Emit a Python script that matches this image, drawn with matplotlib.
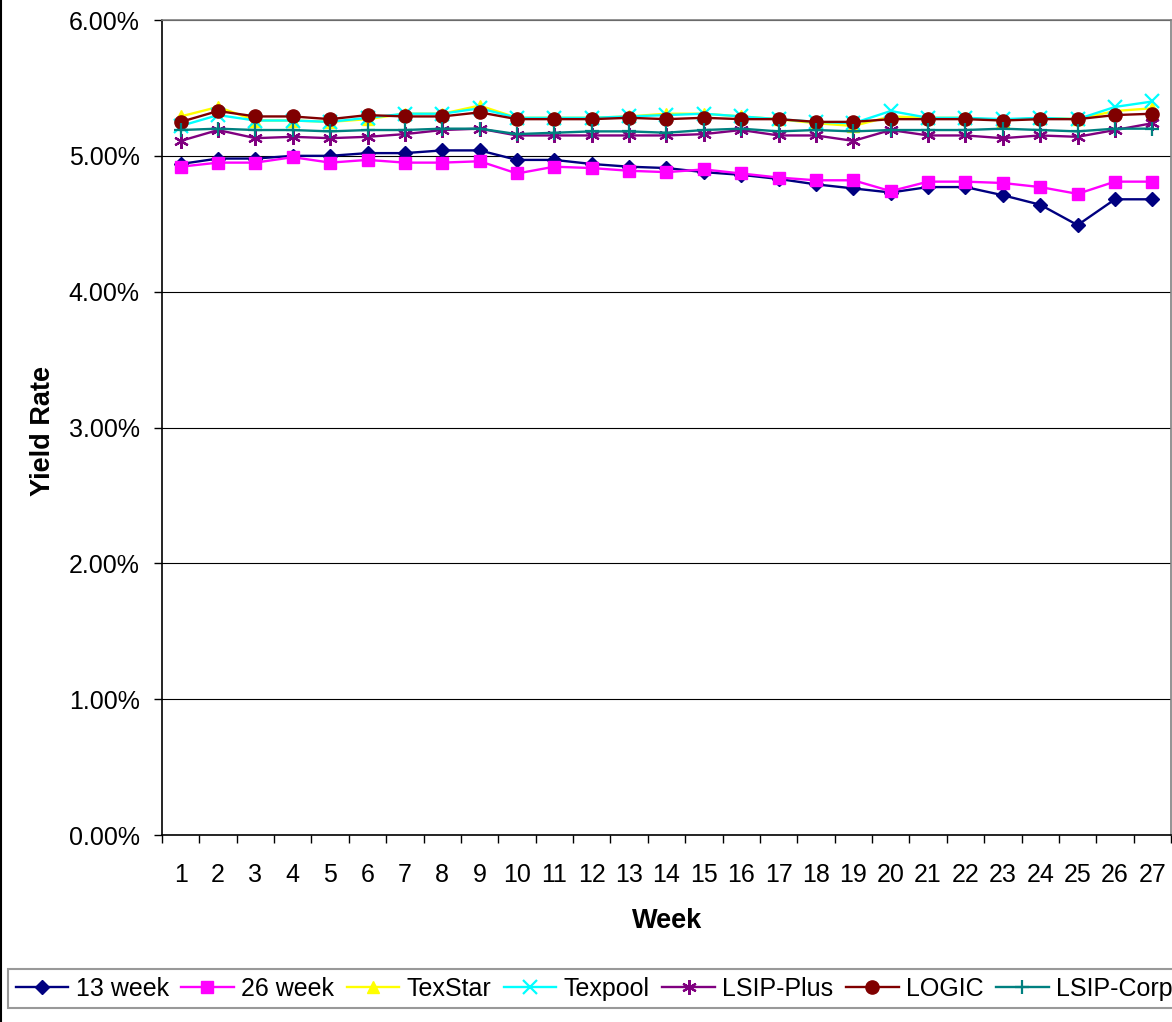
import matplotlib
matplotlib.use("Agg")
import matplotlib.pyplot as plt
from matplotlib.lines import Line2D
from matplotlib.ticker import FixedLocator, FuncFormatter

plt.rcParams['font.family'] = ['Liberation Sans', 'DejaVu Sans']

weeks = list(range(1, 28))

week13 = [4.94, 4.98, 4.98, 5.00, 5.00, 5.02, 5.02, 5.04, 5.04, 4.97, 4.97, 4.94, 4.92, 4.91,
          4.88, 4.86, 4.83, 4.79, 4.76, 4.73, 4.77, 4.77, 4.71, 4.64, 4.49, 4.68, 4.68]
week26 = [4.92, 4.95, 4.95, 4.99, 4.95, 4.97, 4.95, 4.95, 4.96, 4.87, 4.92, 4.91, 4.89, 4.88,
          4.90, 4.87, 4.84, 4.82, 4.82, 4.74, 4.81, 4.81, 4.80, 4.77, 4.72, 4.81, 4.81]
texstar = [5.29, 5.36, 5.26, 5.26, 5.25, 5.27, 5.31, 5.31, 5.37, 5.28, 5.28, 5.28, 5.29, 5.31,
           5.31, 5.29, 5.27, 5.24, 5.22, 5.29, 5.28, 5.28, 5.26, 5.28, 5.27, 5.33, 5.35]
texpool = [5.22, 5.30, 5.26, 5.26, 5.25, 5.28, 5.31, 5.31, 5.35, 5.28, 5.28, 5.28, 5.29, 5.30,
           5.31, 5.29, 5.27, 5.25, 5.24, 5.33, 5.28, 5.28, 5.27, 5.28, 5.27, 5.36, 5.40]
lsip_plus = [5.11, 5.19, 5.13, 5.14, 5.13, 5.14, 5.16, 5.19, 5.20, 5.15, 5.15, 5.15, 5.15, 5.15,
             5.16, 5.19, 5.15, 5.15, 5.11, 5.19, 5.15, 5.15, 5.13, 5.15, 5.14, 5.19, 5.24]
logic = [5.25, 5.33, 5.29, 5.29, 5.27, 5.30, 5.29, 5.29, 5.32, 5.27, 5.27, 5.27, 5.28, 5.27,
         5.28, 5.27, 5.27, 5.25, 5.25, 5.27, 5.27, 5.27, 5.26, 5.27, 5.27, 5.30, 5.31]
lsip_corp = [5.19, 5.20, 5.19, 5.19, 5.18, 5.19, 5.19, 5.20, 5.20, 5.16, 5.17, 5.18, 5.18, 5.17,
             5.19, 5.20, 5.18, 5.19, 5.18, 5.19, 5.19, 5.19, 5.20, 5.19, 5.18, 5.20, 5.20]

series_names = ["13 week", "26 week", "TexStar", "Texpool", "LSIP-Plus", "LOGIC", "LSIP-Corp"]
series_values = [week13, week26, texstar, texpool, lsip_plus, logic, lsip_corp]
colors = ["#000080", "#FF00FF", "#FFFF00", "#00FFFF", "#800080", "#800000", "#008080"]
markers = ["D", "s", "^", "x", (6, 2, 0), "o", "+"]
msizes = [7.5, 8, 8.5, 9.5, 10.5, 9.5, 10.5]

y_ticks = [0, 1, 2, 3, 4, 5, 6]

W, H = 1172, 1022
FS = 18
fig = plt.figure(figsize=(W / 100, H / 100), dpi=100)
ax = fig.add_axes([162 / W, 1 - 835 / H, (1171 - 162) / W, (835 - 20) / H])

for name, vals, c, m, ms in zip(series_names, series_values, colors, markers, msizes):
    mew = 1.6 if m in ("x", "+", (6, 2, 0)) else 1
    ax.plot(weeks, vals, color=c, lw=1.7, marker=m, markersize=ms,
            markerfacecolor=c, markeredgecolor=c, markeredgewidth=mew, label=name, clip_on=False)

ax.set_xlim(0.5, 27.5)
ax.set_ylim(0, 6)
ax.set_yticks(y_ticks)
ax.yaxis.set_major_formatter(FuncFormatter(lambda v, p: f"{v:.2f}%"))
ax.yaxis.grid(True, color="black", lw=0.8)
ax.set_axisbelow(True)

ax.xaxis.set_major_locator(FixedLocator([i + 0.5 for i in range(0, 28)]))
ax.xaxis.set_major_formatter(FuncFormatter(lambda v, p: ""))
ax.set_xticks(weeks, minor=True)
ax.set_xticklabels([str(w) for w in weeks], minor=True)

ax.tick_params(axis="x", which="major", direction="out", length=6, width=1, color="black")
ax.tick_params(axis="x", which="minor", length=0, pad=20, labelsize=FS)
ax.tick_params(axis="y", direction="out", length=6, width=1, color="black", pad=10, labelsize=FS)

for side in ("top", "right"):
    ax.spines[side].set_color("#808080")
    ax.spines[side].set_linewidth(1.2)
for side in ("left", "bottom"):
    ax.spines[side].set_color("black")
    ax.spines[side].set_linewidth(1.2)

fig.text(43 / W, 1 - 431 / H, "Yield Rate", rotation=90, ha="center", va="center",
         fontsize=19.5, fontweight="bold")
fig.text(667 / W, 1 - 921 / H, "Week", ha="center", va="center",
         fontsize=19.5, fontweight="bold")

# left chart-area border
fig.add_artist(Line2D([1 / W, 1 / W], [0, 1], color="black", lw=1.5, transform=fig.transFigure))

leg = fig.legend(loc="upper left", bbox_to_anchor=(8 / W, 1 - 969 / H), ncol=7,
                 fontsize=FS, frameon=True, fancybox=False, edgecolor="#808080",
                 handlelength=2.1, handletextpad=0.3, columnspacing=0.5, borderpad=0.3,
                 numpoints=1, borderaxespad=0)
leg.get_frame().set_linewidth(1.5)

fig.savefig("out.png", dpi=100)
